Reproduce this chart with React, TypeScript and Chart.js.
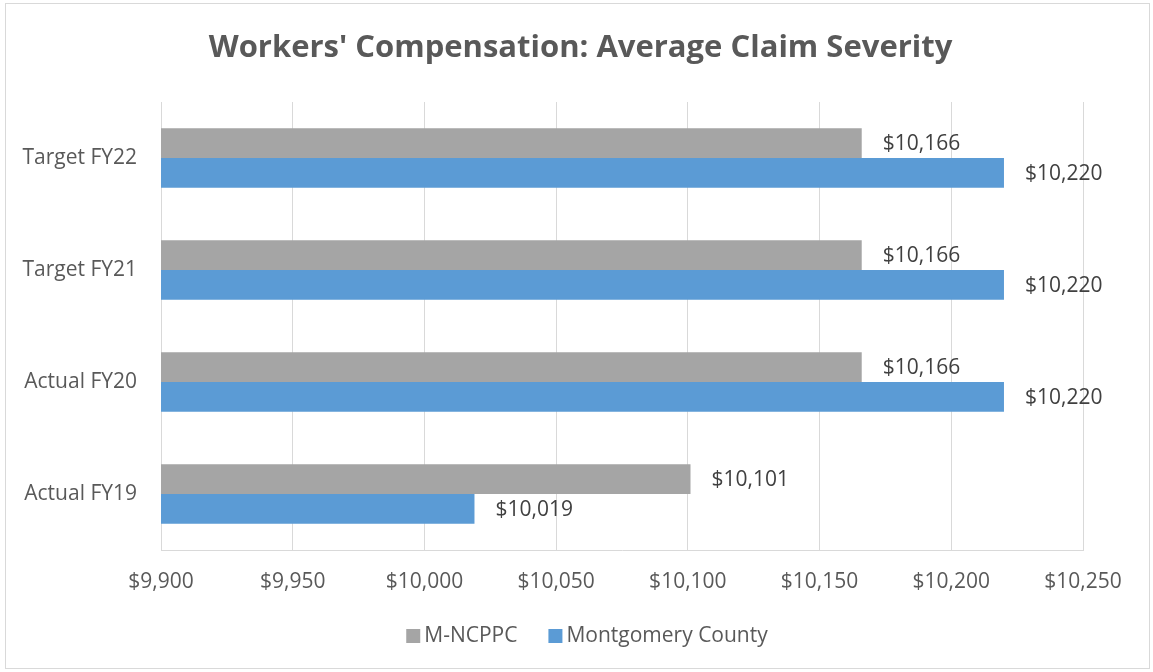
import React, { useEffect, useRef } from "react";
import { Chart, registerables } from "chart.js";

Chart.register(...registerables);

const categories = ["Target FY22", "Target FY21", "Actual FY20", "Actual FY19"];
const mncppcValues = [10166, 10166, 10166, 10101];
const montgomeryValues = [10220, 10220, 10220, 10019];
const seriesNames = ["M-NCPPC", "Montgomery County"];
const seriesColors = ["#a5a5a5", "#5b9bd5"];
const titleText = "Workers' Compensation: Average Claim Severity";

const FONT = "'Open Sans', Lato, sans-serif";
const FS = 21;

const fmt = (v: number) => "$" + v.toLocaleString("en-US");

const borderPlugin = {
  id: "outerBorder",
  beforeDraw(chart: any) {
    const ctx = chart.ctx;
    ctx.save();
    ctx.fillStyle = "#ffffff";
    ctx.fillRect(0, 0, chart.width, chart.height);
    ctx.strokeStyle = "#d9d9d9";
    ctx.lineWidth = 1;
    ctx.strokeRect(5.5, 3.5, chart.width - 9, chart.height - 7);
    ctx.font = `bold 31px ${FONT}`;
    ctx.fillStyle = "#595959";
    ctx.textAlign = "center";
    ctx.textBaseline = "middle";
    ctx.fillText(titleText, chart.width / 2 + 4, 48);
    ctx.restore();
  },
  afterDraw(chart: any) {
    const ctx = chart.ctx;
    ctx.save();
    ctx.font = `${FS}px ${FONT}`;
    ctx.textAlign = "left";
    ctx.textBaseline = "middle";
    const box = 14;
    const textGap = 4;
    const itemGap = 31;
    const widths = chart.data.datasets.map((ds: any) => ctx.measureText(ds.label).width);
    let total = 0;
    widths.forEach((w: number, i: number) => {
      total += box + textGap + w + (i < widths.length - 1 ? itemGap : 0);
    });
    let x = 587 - total / 2;
    const cy = 636;
    chart.data.datasets.forEach((ds: any, i: number) => {
      ctx.fillStyle = ds.backgroundColor;
      ctx.fillRect(x, cy - box / 2, box, box);
      ctx.fillStyle = "#595959";
      ctx.fillText(ds.label, x + box + textGap, cy);
      x += box + textGap + widths[i] + itemGap;
    });
    ctx.restore();
  },
};

const labelPlugin = {
  id: "barValueLabels",
  afterDatasetsDraw(chart: any) {
    const ctx = chart.ctx;
    ctx.save();
    ctx.font = `${FS}px ${FONT}`;
    ctx.fillStyle = "#404040";
    ctx.textAlign = "left";
    ctx.textBaseline = "middle";
    chart.data.datasets.forEach((ds: any, di: number) => {
      const meta = chart.getDatasetMeta(di);
      meta.data.forEach((el: any, i: number) => {
        ctx.fillText(fmt(ds.data[i]), el.x + 21, el.y + 1);
      });
    });
    ctx.restore();
  },
};

export default function App() {
  const ref = useRef<HTMLCanvasElement | null>(null);
  useEffect(() => {
    document.body.style.margin = "0";
    if (!ref.current) return;
    const chart = new Chart(ref.current, {
      type: "bar",
      data: {
        labels: categories,
        datasets: [
          {
            label: seriesNames[0],
            data: mncppcValues,
            backgroundColor: seriesColors[0],
            borderWidth: 0,
            categoryPercentage: 0.53,
            barPercentage: 1,
          },
          {
            label: seriesNames[1],
            data: montgomeryValues,
            backgroundColor: seriesColors[1],
            borderWidth: 0,
            categoryPercentage: 0.53,
            barPercentage: 1,
          },
        ],
      },
      options: {
        indexAxis: "y",
        animation: false,
        responsive: true,
        maintainAspectRatio: false,
        layout: { padding: { top: 102, right: 70, bottom: 74, left: 0 } },
        plugins: {
          title: { display: false },
          legend: { display: false },
          tooltip: { enabled: false },
        },
        scales: {
          x: {
            min: 9900,
            max: 10250,
            ticks: {
              stepSize: 50,
              color: "#595959",
              font: { family: FONT, size: FS },
              padding: 19,
              callback: (v: any) => fmt(Number(v)),
            },
            grid: { color: "#d9d9d9", drawTicks: false },
            border: { display: true, color: "#d9d9d9" },
            afterFit: (s: any) => {
              s.height = 48;
            },
          },
          y: {
            ticks: {
              color: "#595959",
              font: { family: FONT, size: FS },
              padding: 24,
            },
            grid: { display: false, drawTicks: false },
            border: { display: false },
            afterFit: (s: any) => {
              s.width = 161;
            },
          },
        },
      },
      plugins: [borderPlugin, labelPlugin],
    });
    return () => chart.destroy();
  }, []);
  return (
    <div style={{ position: "absolute", left: 0, top: 0, width: 1153, height: 672 }}>
      <canvas ref={ref} />
    </div>
  );
}
